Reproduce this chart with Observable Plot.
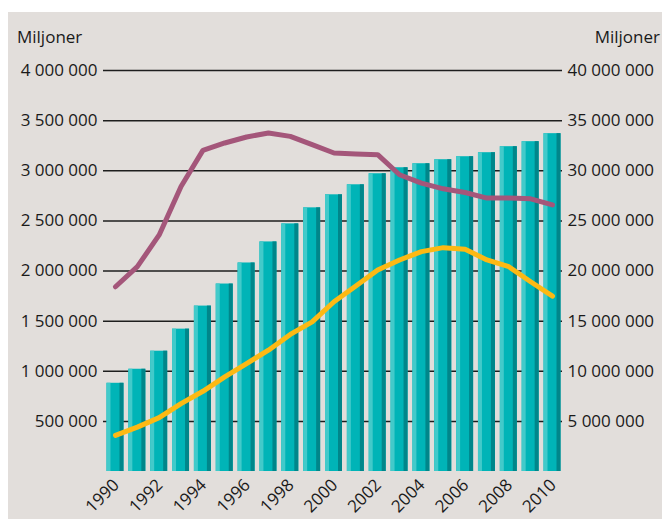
<!DOCTYPE html>
<html><head><meta charset="utf-8">
<script src="https://cdn.jsdelivr.net/npm/d3@7"></script>
<script src="https://cdn.jsdelivr.net/npm/@observablehq/plot@0.6"></script>
<style>
body{margin:0;background:#fff;}
#box{position:absolute;left:8px;top:12px;width:654px;height:507px;background:#e2dedb;font-family:"Open Sans",sans-serif;color:#1a1a1a;overflow:hidden;}
.unit{position:absolute;top:13px;font-size:17px;line-height:24px;}
#chart{position:absolute;left:0;top:0;}
</style></head><body>
<div id="box">
  <div class="unit" style="left:9px">Miljoner</div>
  <div class="unit" style="right:2px">Miljoner</div>
  <div id="chart"></div>
</div>
<script>
const years = [1990,1991,1992,1993,1994,1995,1996,1997,1998,1999,2000,2001,2002,2003,2004,2005,2006,2007,2008,2009,2010];
const barValues = [880000,1020000,1200000,1420000,1650000,1870000,2080000,2290000,2470000,2630000,2760000,2860000,2970000,3030000,3070000,3110000,3140000,3180000,3240000,3290000,3370000];
const purpleValues = [1843000,2043000,2360000,2843000,3203000,3277000,3337000,3377000,3343000,3260000,3177000,3167000,3160000,2960000,2877000,2820000,2783000,2727000,2727000,2720000,2660000];
const yellowValues = [360000,443000,537000,677000,800000,943000,1077000,1210000,1367000,1493000,1693000,1850000,2010000,2110000,2193000,2233000,2217000,2110000,2043000,1893000,1750000];
const yTicks = [500000,1000000,1500000,2000000,2500000,3000000,3500000,4000000];
const yearLabels = [1990,1992,1994,1996,1998,2000,2002,2004,2006,2008,2010];

const fmt = n => d3.format(",")(n).replace(/,/g, " ");
const data = years.map((year, i) => ({year, bar: barValues[i], purple: purpleValues[i], yellow: yellowValues[i]}));

const chart = Plot.plot({
  width: 654, height: 507,
  marginTop: 58, marginBottom: 48, marginLeft: 95, marginRight: 100,
  style: {background: "transparent", fontFamily: "Open Sans", fontSize: "17px", color: "#1a1a1a", overflow: "visible"},
  x: {type: "band", domain: years, range: [96.3, 554.7], paddingInner: 0.222, paddingOuter: 0.1, round: false, axis: null},
  y: {domain: [0, 4000000], axis: null},
  marks: [
    Plot.ruleY(yTicks, {stroke: "#1e1e1e", strokeWidth: 1.5}),
    Plot.barY(data, {x: "year", y: "bar", fill: "#00b4b7"}),
    Plot.barY(data, {x: "year", y: "bar", fill: "#42caca", insetRight: 13}),
    Plot.barY(data, {x: "year", y: "bar", fill: "#00868a", insetLeft: 13}),
    Plot.line(data, {x: "year", y: "purple", stroke: "#a4567a", strokeWidth: 5, strokeLinejoin: "round"}),
    Plot.line(data, {x: "year", y: "yellow", stroke: "#fdb913", strokeWidth: 5, strokeLinejoin: "round"}),
    Plot.axisY(yTicks, {anchor: "left", tickSize: 0, tickPadding: 6, tickFormat: fmt, fontSize: 17}),
    Plot.axisY(yTicks, {anchor: "right", tickSize: 0, tickPadding: 5, tickFormat: d => fmt(d * 10), fontSize: 17}),
    Plot.text(yearLabels, {x: d => d, y: () => 0, text: d => String(d), rotate: -45, textAnchor: "end", lineAnchor: "top", dx: -4, dy: 6, fontSize: 17, fill: "#1a1a1a"})
  ]
});
document.getElementById("chart").appendChild(chart);
</script>
</body></html>
